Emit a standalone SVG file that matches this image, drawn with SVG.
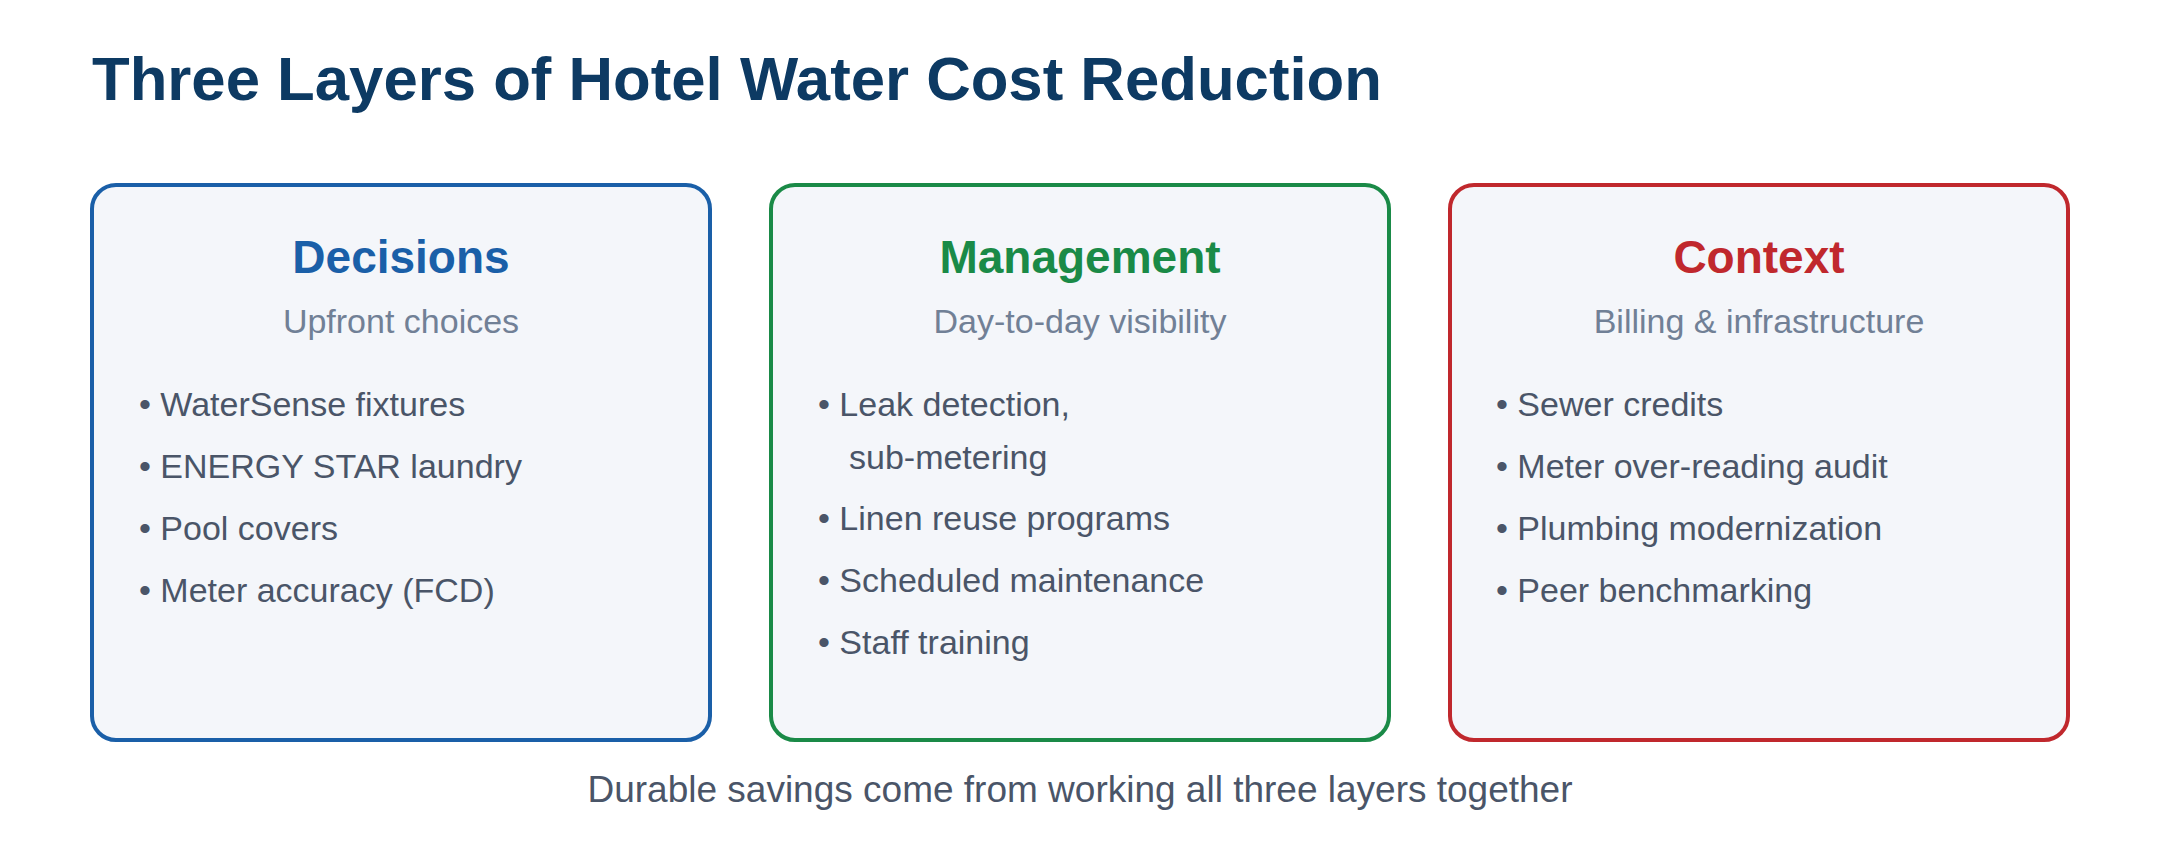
<svg xmlns="http://www.w3.org/2000/svg" width="2160" height="864" viewBox="0 0 2160 864">
<style>
.title{font-family:"Liberation Sans",Arial,sans-serif;font-weight:bold;font-size:61.7px;fill:#0d3a63}
.box{fill:#f4f6fa;stroke-width:4}
.head{font-family:"Liberation Sans",Arial,sans-serif;font-weight:bold;font-size:46px;text-anchor:middle}
.sub{font-family:"Liberation Sans",Arial,sans-serif;font-size:34px;fill:#718096;text-anchor:middle}
.item{font-family:"Liberation Sans",Arial,sans-serif;font-size:34px;fill:#4a5568}
.foot{font-family:"Liberation Sans",Arial,sans-serif;font-size:37px;fill:#4a5568;text-anchor:middle}
</style>
<rect width="2160" height="864" fill="#ffffff"/>
<text class="title" x="92" y="100">Three Layers of Hotel Water Cost Reduction</text>
<g id="decisions">
<rect class="box" x="92" y="185" width="618" height="555" rx="24" stroke="#1a5fa8"/>
<text class="head" x="401" y="273" fill="#1a5fa8">Decisions</text>
<text class="sub" x="401" y="333">Upfront choices</text>
<text class="item" x="139" y="416">• WaterSense fixtures</text>
<text class="item" x="139" y="478">• ENERGY STAR laundry</text>
<text class="item" x="139" y="540">• Pool covers</text>
<text class="item" x="139" y="602">• Meter accuracy (FCD)</text>
</g>
<g id="management">
<rect class="box" x="771" y="185" width="618" height="555" rx="24" stroke="#1a8a47"/>
<text class="head" x="1080" y="273" fill="#1a8a47">Management</text>
<text class="sub" x="1080" y="333">Day-to-day visibility</text>
<text class="item" x="818" y="416">• Leak detection,</text>
<text class="item" x="849" y="469">sub-metering</text>
<text class="item" x="818" y="530">• Linen reuse programs</text>
<text class="item" x="818" y="592">• Scheduled maintenance</text>
<text class="item" x="818" y="654">• Staff training</text>
</g>
<g id="context">
<rect class="box" x="1450" y="185" width="618" height="555" rx="24" stroke="#c0282d"/>
<text class="head" x="1759" y="273" fill="#c0282d">Context</text>
<text class="sub" x="1759" y="333">Billing &amp; infrastructure</text>
<text class="item" x="1496" y="416">• Sewer credits</text>
<text class="item" x="1496" y="478">• Meter over-reading audit</text>
<text class="item" x="1496" y="540">• Plumbing modernization</text>
<text class="item" x="1496" y="602">• Peer benchmarking</text>
</g>
<g id="connectors"></g>
<text class="foot" x="1080" y="802">Durable savings come from working all three layers together</text>
</svg>
